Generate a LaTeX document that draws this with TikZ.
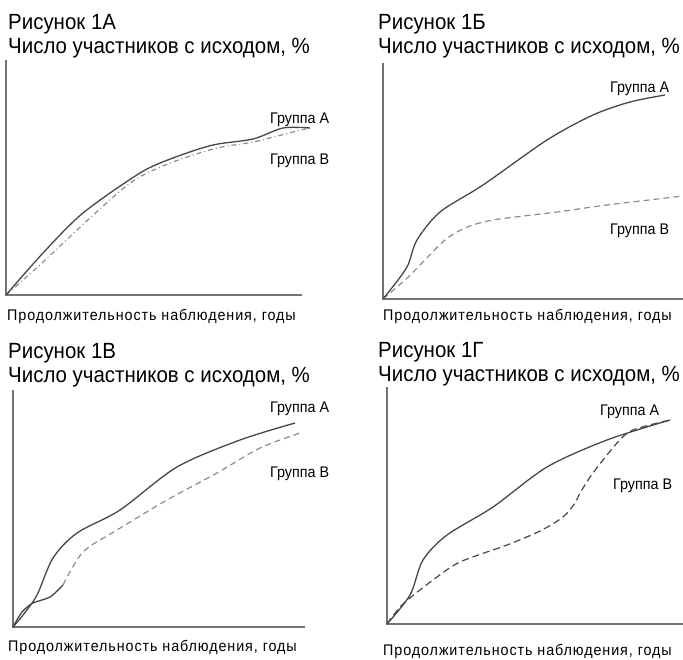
\documentclass[tikz,border=0pt]{standalone}
\usepackage{fontspec}
\setmainfont[FakeStretch=0.9]{Liberation Sans}
\newfontfamily\titlefont[FakeStretch=0.93]{Liberation Sans}
\newfontfamily\groupfont[FakeStretch=0.93]{Liberation Sans}
\newfontfamily\xlabfont[FakeStretch=0.93, LetterSpace=6]{Liberation Sans}
\usetikzlibrary{positioning}
\tikzset{
  title/.style = {anchor = base west, inner sep = 0, font = \titlefont\fontsize{22}{24}\selectfont},
  group/.style = {anchor = base west, inner sep = 0, font = \groupfont\fontsize{15.4}{17}\selectfont},
  xlab/.style = {anchor = base west, inner sep = 0, font = \xlabfont\fontsize{15.4}{17}\selectfont},
  axis/.style = {draw = agray, line width = 1.1},
  grpA/.style = {draw = dgray, line width = 1.3, smooth},
  grpB/.style = {draw = lgray, line width = 1.2, dashed, dash pattern = on 6 off 4, smooth}
}
\definecolor{agray}{rgb}{0.45, 0.45, 0.45}
\definecolor{dgray}{rgb}{0.28, 0.28, 0.28}
\definecolor{lgray}{rgb}{0.55, 0.55, 0.55}
\begin{document}
\begin{tikzpicture}[x = 1pt, y = -1pt]
  \useasboundingbox (0, 0) rectangle (683, 659);

  % 1A
  \node [title] (tA) at (8, 29) {Рисунок 1А};
  \node [title] (sA) at (8, 53) {Число участников с исходом, \%};
  \draw [axis] (6, 60) -- (6, 295) -- (302, 295);
  \draw [grpB, dash pattern = on 5 off 3 on 1 off 3]
    plot coordinates {(6, 295) (43, 262) (90, 218) (133, 181) (173, 162) (217, 148) (253, 142) (293, 132) (310, 128)};
  \draw [grpA]
    plot coordinates {(6, 295) (43, 253) (83, 213) (140, 173) (173, 158) (213, 145) (253, 139) (283, 128) (310, 128)};
  \node [group] (gaA) at (270, 123) {Группа А};
  \node [group] (gbA) at (270, 164) {Группа В};
  \node [xlab] (xA) at (7, 320) {Продолжительность наблюдения, годы};

  % 1Б
  \node [title] (tB) at (378, 29) {Рисунок 1Б};
  \node [title] (sB) at (378, 53) {Число участников с исходом, \%};
  \draw [axis] (383, 63) -- (383, 299) -- (683, 299);
  \draw [grpB]
    plot coordinates {(383, 299) (405, 280) (423, 262) (445, 240) (465, 228) (493, 220) (557, 212) (607, 205) (683, 196)};
  \draw [grpA]
    plot coordinates {(383, 299) (398, 280) (408, 265) (417, 240) (440, 212) (483, 185) (547, 140) (593, 115) (630, 102) (665, 95)};
  \node [group] (gaB) at (610, 92) {Группа А};
  \node [group] (gbB) at (610, 234) {Группа В};
  \node [xlab] (xB) at (383, 320) {Продолжительность наблюдения, годы};

  % 1В
  \node [title] (tC) at (8, 358) {Рисунок 1В};
  \node [title] (sC) at (8, 382) {Число участников с исходом, \%};
  \draw [axis] (13, 390) -- (13, 627) -- (305, 627);
  \draw [grpA] plot coordinates {(13, 627) (22, 612) (33, 603) (50, 597) (63, 585)};
  \draw [grpB]
    plot coordinates {(63, 585) (83, 552) (117, 530) (167, 500) (217, 473) (260, 448) (300, 433)};
  \draw [grpA]
    plot coordinates {(13, 627) (23, 615) (37, 595) (53, 558) (77, 533) (120, 510) (177, 467) (240, 440) (295, 423)};
  \node [group] (gaC) at (270, 412) {Группа А};
  \node [group] (gbC) at (270, 477) {Группа В};
  \node [xlab] (xC) at (8, 651) {Продолжительность наблюдения, годы};

  % 1Г
  \node [title] (tD) at (378, 357) {Рисунок 1Г};
  \node [title] (sD) at (378, 381) {Число участников с исходом, \%};
  \draw [axis] (387, 387) -- (387, 624) -- (683, 624);
  \draw [grpB, draw = dgray, dash pattern = on 7 off 4]
    plot coordinates {(387, 624) (403, 604) (433, 580) (460, 562) (507, 545) (540, 531) (563, 517) (575, 503) (580, 493) (593, 473) (617, 443) (633, 430) (670, 420)};
  \draw [grpA]
    plot coordinates {(387, 624) (410, 595) (423, 560) (447, 535) (493, 507) (547, 467) (607, 440) (670, 420)};
  \node [group] (gaD) at (600, 415) {Группа А};
  \node [group] (gbD) at (613, 489) {Группа В};
  \node [xlab] (xD) at (383, 655) {Продолжительность наблюдения, годы};
\end{tikzpicture}
\end{document}
